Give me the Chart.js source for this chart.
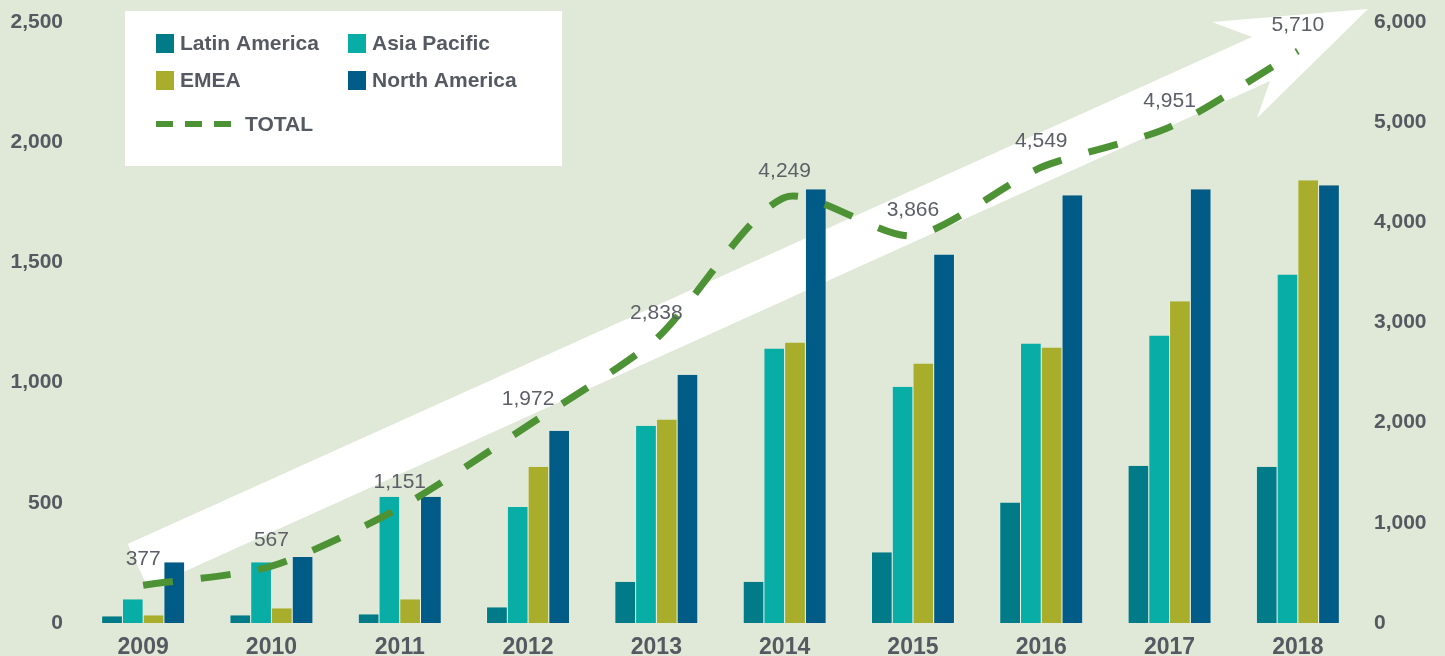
<!DOCTYPE html>
<html>
<head>
<meta charset="utf-8">
<script src="https://cdn.jsdelivr.net/npm/chart.js@4/dist/chart.umd.min.js"></script>
<style>
    html, body { margin: 0; padding: 0; background: #e0e9d7; }
    #wrap { width: 1445px; height: 656px; position: relative; }
</style>
</head>
<body>
<div id="wrap"><canvas id="regionChart"></canvas></div>
<script>
const years = ['2009', '2010', '2011', '2012', '2013', '2014', '2015', '2016', '2017', '2018'];
const latinAmerica = [28, 32, 36, 65, 172, 172, 294, 501, 654, 650];
const asiaPacific = [99, 253, 525, 483, 821, 1142, 983, 1163, 1196, 1450];
const emea = [32, 61, 99, 650, 846, 1167, 1079, 1146, 1338, 1842];
const northAmerica = [253, 275, 525, 800, 1033, 1804, 1533, 1779, 1804, 1821];
const total = [377, 567, 1151, 1972, 2838, 4249, 3866, 4549, 4951, 5710];

const textColor = '#555961';
const fontFamily = '"Liberation Sans", Arial, sans-serif';

// big white arrow behind the bars, in fractions of the plot area
const arrowShape = [
    [0.0379, 0.8686], [0.9143, 0.025], [0.8831, 0.0], [1.0047, -0.0216],
    [0.9182, 0.1597], [0.9283, 0.0982], [0.0538, 0.9418]
];

const arrowPlugin = {
    id: 'arrow',
    beforeDatasetsDraw(chart) {
        const { ctx, chartArea: ca } = chart;
        const w = ca.right - ca.left, h = ca.bottom - ca.top;
        ctx.save();
        ctx.fillStyle = '#ffffff';
        ctx.beginPath();
        arrowShape.forEach(([fx, fy], i) => {
            const x = ca.left + fx * w, y = ca.top + fy * h;
            if (i === 0) ctx.moveTo(x, y); else ctx.lineTo(x, y);
        });
        ctx.closePath();
        ctx.fill();
        ctx.restore();
    }
};

const totalLabels = {
    id: 'totalLabels',
    afterDatasetsDraw(chart) {
        const { ctx } = chart;
        const meta = chart.getDatasetMeta(4);
        ctx.save();
        ctx.font = '21px ' + fontFamily;
        ctx.fillStyle = '#5c5f67';
        ctx.textAlign = 'center';
        ctx.textBaseline = 'middle';
        meta.data.forEach((pt, i) => {
            ctx.fillText(total[i].toLocaleString('en-US'), pt.x, pt.y - 26);
        });
        ctx.restore();
    }
};

const legendBox = {
    id: 'legendBox',
    afterDraw(chart) {
        const { ctx } = chart;
        const ds = chart.data.datasets;
        const slots = [[156, 34], [348, 34], [156, 71], [348, 71]];
        ctx.save();
        ctx.fillStyle = '#ffffff';
        ctx.fillRect(125, 11, 437, 155);
        ctx.font = 'bold 21px ' + fontFamily;
        ctx.textBaseline = 'middle';
        ctx.textAlign = 'left';
        slots.forEach(([x, y], i) => {
            ctx.fillStyle = ds[i].backgroundColor;
            ctx.fillRect(x, y, 18, 19);
            ctx.fillStyle = textColor;
            ctx.fillText(ds[i].label, x + 24, y + 10);
        });
        ctx.strokeStyle = ds[4].borderColor;
        ctx.lineWidth = 6;
        ctx.setLineDash([17, 12]);
        ctx.beginPath();
        ctx.moveTo(156, 124);
        ctx.lineTo(232, 124);
        ctx.stroke();
        ctx.fillStyle = textColor;
        ctx.fillText(ds[4].label, 245, 125);
        ctx.restore();
    }
};

const barStyle = {
    type: 'bar',
    yAxisID: 'y',
    order: 1,
    borderColor: '#ffffff',
    borderWidth: { left: 0.5, right: 0.5, top: 0, bottom: 0 },
    barPercentage: 1,
    categoryPercentage: 0.647
};

// fixed axis widths; drop the label half-height padding so the plot starts at the top padding
const fixWidth = w => s => { s.width = w; s.paddingTop = 0; s.paddingBottom = 0; };

new Chart(document.getElementById('regionChart'), {
    data: {
        labels: years,
        datasets: [
            { ...barStyle, label: 'Latin America', data: latinAmerica, backgroundColor: '#007b87' },
            { ...barStyle, label: 'Asia Pacific', data: asiaPacific, backgroundColor: '#08ada6' },
            { ...barStyle, label: 'EMEA', data: emea, backgroundColor: '#a8ae2c' },
            { ...barStyle, label: 'North America', data: northAmerica, backgroundColor: '#005b87' },
            {
                type: 'line',
                label: 'TOTAL',
                data: total,
                yAxisID: 'y1',
                order: 0,
                borderColor: '#4d9335',
                borderWidth: 7,
                borderDash: [30, 28],
                tension: 0.25,
                pointRadius: 0,
                fill: false
            }
        ]
    },
    options: {
        responsive: true,
        maintainAspectRatio: false,
        animation: false,
        layout: { padding: { top: 22, left: 0, right: 0, bottom: 0 } },
        plugins: {
            legend: { display: false },
            tooltip: { enabled: false }
        },
        scales: {
            x: {
                grid: { display: false, drawTicks: false },
                border: { display: false },
                ticks: {
                    padding: 11,
                    color: textColor,
                    font: { family: fontFamily, size: 23, weight: 'bold' }
                },
                afterFit: s => { s.height = 33; }
            },
            y: {
                position: 'left',
                min: 0,
                max: 2500,
                grid: { display: false, drawTicks: false },
                border: { display: false },
                ticks: {
                    stepSize: 500,
                    padding: 16,
                    color: textColor,
                    font: { family: fontFamily, size: 21, weight: 'bold' },
                    callback: v => v.toLocaleString('en-US')
                },
                afterFit: fixWidth(79)
            },
            y1: {
                position: 'right',
                min: 0,
                max: 6000,
                grid: { display: false, drawTicks: false },
                border: { display: false },
                ticks: {
                    stepSize: 1000,
                    padding: 12,
                    color: textColor,
                    font: { family: fontFamily, size: 21, weight: 'bold' },
                    callback: v => v.toLocaleString('en-US')
                },
                afterFit: fixWidth(83)
            }
        }
    },
    plugins: [arrowPlugin, totalLabels, legendBox]
});
</script>
</body>
</html>
